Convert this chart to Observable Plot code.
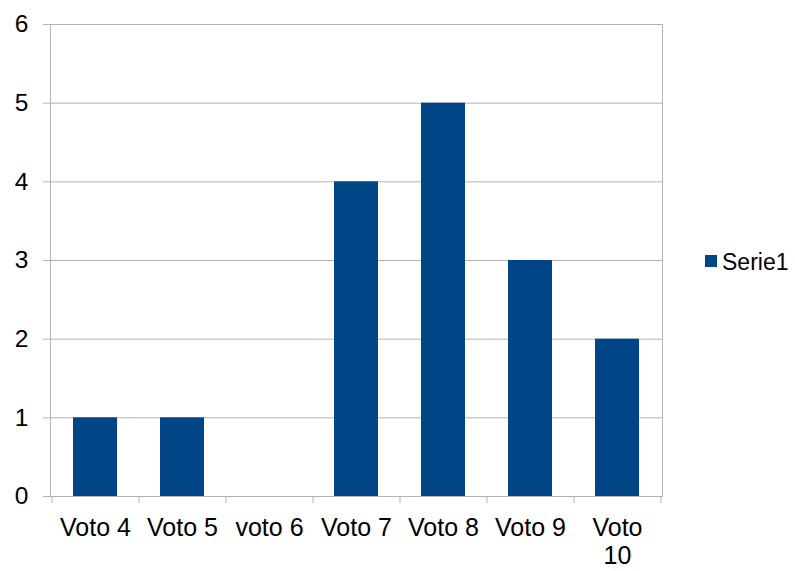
<!DOCTYPE html>
<html>
<head>
<meta charset="utf-8">
<script src="https://cdn.jsdelivr.net/npm/d3@7"></script>
<script src="https://cdn.jsdelivr.net/npm/@observablehq/plot@0.6"></script>
<style>
  html, body { margin: 0; padding: 0; background: #ffffff; }
  #wrap { position: relative; width: 795px; height: 571px; font-family: "Liberation Sans", Arial, sans-serif; }
  #legend-swatch { position: absolute; left: 704.5px; top: 255px; width: 12px; height: 12px; background: #004586; }
  #legend-label { position: absolute; left: 722px; top: 250.5px; font-size: 23px; line-height: 1; color: #000; white-space: nowrap; }
</style>
</head>
<body>
<div id="wrap"></div>
<script>
const categories = ["Voto 4", "Voto 5", "voto 6", "Voto 7", "Voto 8", "Voto 9", "Voto 10"];
const values = [1, 1, 0, 4, 5, 3, 2];
const yTicks = [0, 1, 2, 3, 4, 5, 6];
const seriesName = "Serie1";

const data = categories.map((c, i) => ({cat: c, val: values[i]}));

const W = 795, H = 571;
const margins = {marginLeft: 50, marginRight: 133, marginTop: 24, marginBottom: 75};
const gray = "#b3b3b3";
const xScale = {type: "band", domain: categories, paddingInner: 0.5, paddingOuter: 0.25};
const yScale = {domain: [0, 6]};

// probe to get the band step from the library's scale
const probe = Plot.plot({width: W, height: H, ...margins, x: xScale, y: yScale, marks: [Plot.barY(data, {x: "cat", y: "val"})]});
const xs = probe.scale("x");
const step = xs.step ?? ((xs.range[1] - xs.range[0]) / categories.length);

// wrap labels that are too long for one band (like the reference's "Voto 10")
const wrapLabel = d => d.length > 6 ? d.replace(" ", "\n") : d;

const chart = Plot.plot({
  width: W,
  height: H,
  ...margins,
  style: {fontFamily: "Liberation Sans, Arial, sans-serif", color: "#000", background: "#fff"},
  x: {...xScale, label: null},
  y: {...yScale, label: null},
  marks: [
    Plot.gridY(yTicks, {stroke: gray, strokeOpacity: 1}),
    Plot.frame({stroke: gray}),
    Plot.barY(data, {x: "cat", y: "val", fill: "#004586"}),
    Plot.axisY(yTicks, {tickSize: 7, tickPadding: 15, stroke: gray, fontSize: 24.5, label: null, tickFormat: d => String(d)}),
    Plot.axisX(categories, {tickSize: 7, dx: -step / 2, stroke: gray, tickFormat: () => "", label: null}),
    Plot.axisX([categories[categories.length - 1]], {tickSize: 7, dx: step / 2, stroke: gray, tickFormat: () => "", label: null}),
    Plot.axisX(categories, {tickSize: 0, tickPadding: 19.5, fontSize: 25, lineHeight: 1.12, tickFormat: wrapLabel, label: null})
  ]
});

const wrap = document.getElementById("wrap");
wrap.appendChild(chart);
const sw = document.createElement("div");
sw.id = "legend-swatch";
wrap.appendChild(sw);
const lab = document.createElement("div");
lab.id = "legend-label";
lab.textContent = seriesName;
wrap.appendChild(lab);
</script>
</body>
</html>
